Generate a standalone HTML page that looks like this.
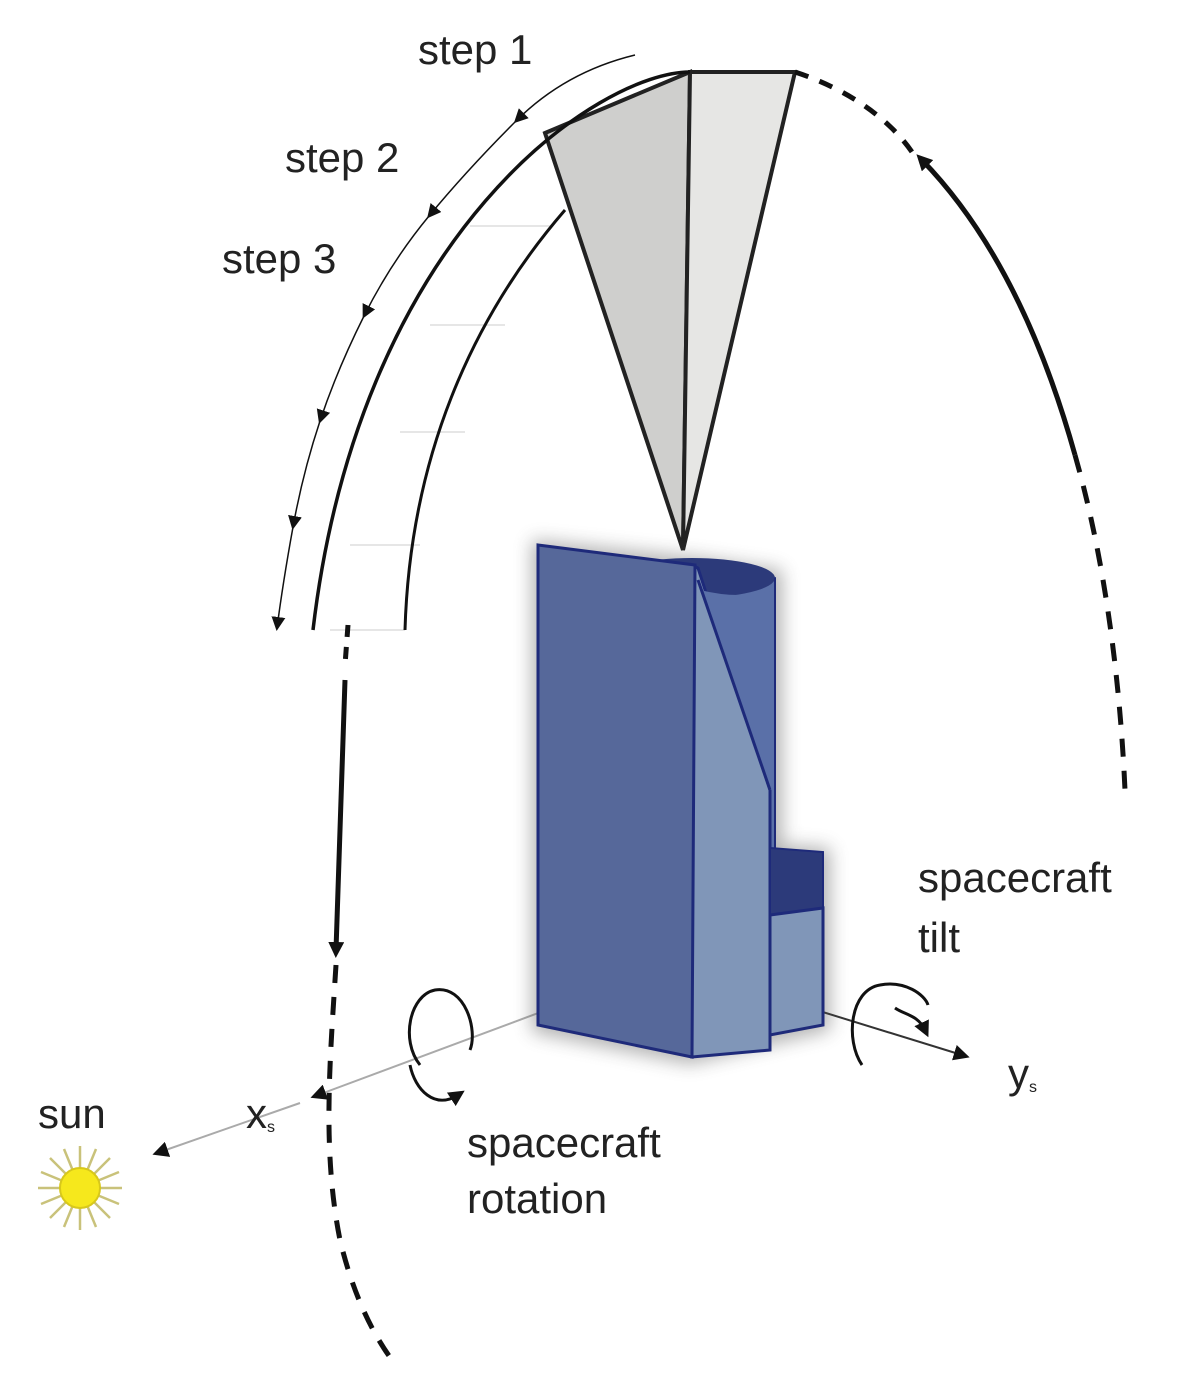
<!DOCTYPE html>
<html><head><meta charset="utf-8"><style>
html,body{margin:0;padding:0;background:#fff}
svg{display:block}
text{font-family:"Liberation Sans",sans-serif;fill:#222}
</style></head><body>
<svg width="1200" height="1381" viewBox="0 0 1200 1381" xmlns="http://www.w3.org/2000/svg">
<defs>
<marker id="ah" markerWidth="14" markerHeight="14" refX="11" refY="7" orient="auto" markerUnits="userSpaceOnUse"><path d="M0,0 L14,7 L0,14 z" fill="#111"/></marker>
<marker id="ahs" markerWidth="16" markerHeight="16" refX="8" refY="8" orient="auto" markerUnits="userSpaceOnUse"><path d="M0,0 L16,8 L0,16 z" fill="#111"/></marker>
<filter id="sh" x="-30%" y="-20%" width="160%" height="140%"><feGaussianBlur stdDeviation="9"/></filter>
</defs>

<g stroke="#e6e6e6" stroke-width="2">
<line x1="470" y1="226" x2="550" y2="226"/><line x1="430" y1="325" x2="505" y2="325"/>
<line x1="400" y1="432" x2="465" y2="432"/><line x1="350" y1="545" x2="420" y2="545"/>
<line x1="330" y1="630" x2="405" y2="630"/>
</g>

<polygon points="545,133 690,72 683,550" fill="#cfcfcd" stroke="#222" stroke-width="4"/>
<polygon points="690,72 795,72 683,550" fill="#e6e6e4" stroke="#222" stroke-width="4"/>

<path d="M690 72 C600 72 360 230 313 630" fill="none" stroke="#111" stroke-width="3.5"/>
<path d="M565 210 C470 320 410 460 405 630" fill="none" stroke="#111" stroke-width="3"/>
<path d="M635 55 Q565 72 516 121 T429 216 T364 316 T320 421 T293 527 T277 628" fill="none" stroke="#111" stroke-width="1.5" marker-mid="url(#ah)" marker-end="url(#ah)"/>

<path d="M795 72 C850 90 890 120 912 152" fill="none" stroke="#111" stroke-width="5" stroke-dasharray="14,12"/>
<path d="M1075 455 C1040 330 990 230 922 160" fill="none" stroke="#111" stroke-width="5" marker-end="url(#ahs)"/>
<path d="M1075 455 C1105 560 1120 680 1125 790" fill="none" stroke="#111" stroke-width="5" stroke-dasharray="18,14"/>

<path d="M348 625 L345 665" fill="none" stroke="#111" stroke-width="5" stroke-dasharray="12,10"/>
<path d="M345 680 C342 780 338 880 336 950" fill="none" stroke="#111" stroke-width="5" marker-end="url(#ahs)"/>
<path d="M336 965 C330 1060 322 1150 340 1240 C352 1290 370 1330 392 1360" fill="none" stroke="#111" stroke-width="5" stroke-dasharray="18,14"/>

<line x1="600" y1="990" x2="318" y2="1095" stroke="#aaa" stroke-width="2" marker-end="url(#ahs)"/>
<line x1="300" y1="1103" x2="160" y2="1152" stroke="#aaa" stroke-width="2" marker-end="url(#ahs)"/>
<line x1="800" y1="1005" x2="962" y2="1055" stroke="#333" stroke-width="2" marker-end="url(#ahs)"/>

<path d="M532 540 L700 558 L782 570 L782 845 L830 848 L830 1030 L690 1064 L532 1032 z" fill="#555" opacity="0.45" filter="url(#sh)"/>
<path d="M692 572 Q735 560 775 578 L775 850 L692 850 z" fill="#5a70a8" stroke="#1e2a7a" stroke-width="2"/>
<ellipse cx="692" cy="578" rx="83" ry="20" fill="#2c3a7a"/>
<polygon points="692,565 698,568 770,790 770,1050 692,1057" fill="#8096b8" stroke="#1e2a7a" stroke-width="3"/>
<path d="M700 590 L770 790 L775 790 L775 590 Q740 600 700 590 z" fill="#5a70a8"/>
<line x1="698" y1="580" x2="770" y2="790" stroke="#1e2a7a" stroke-width="3"/>
<line x1="775" y1="578" x2="775" y2="850" stroke="#1e2a7a" stroke-width="2"/>
<polygon points="538,545 695,565 692,1057 538,1025" fill="#56689a" stroke="#1e2a7a" stroke-width="3"/>
<polygon points="770,848 823,852 823,908 770,915" fill="#2c3a7a" stroke="#1e2a7a" stroke-width="2"/>
<polygon points="770,915 823,908 823,1025 770,1035" fill="#8096b8" stroke="#1e2a7a" stroke-width="3"/>

<path d="M420 1065 C400 1040 410 995 435 990 C465 985 478 1030 470 1050" fill="none" stroke="#111" stroke-width="3"/>
<path d="M410 1065 C415 1090 435 1110 458 1095" fill="none" stroke="#111" stroke-width="3" marker-end="url(#ahs)"/>
<path d="M862 1065 C845 1040 850 990 880 985 C905 980 925 995 928 1005" fill="none" stroke="#111" stroke-width="3"/>
<path d="M895 1008 C905 1015 918 1015 925 1030" fill="none" stroke="#111" stroke-width="3" marker-end="url(#ahs)"/>

<g transform="translate(80,1188)">
<g stroke="#c9c27a" stroke-width="2.5">
<line x1="0" y1="-42" x2="0" y2="42"/><line x1="-42" y1="0" x2="42" y2="0"/>
<line x1="-30" y1="-30" x2="30" y2="30"/><line x1="-30" y1="30" x2="30" y2="-30"/>
<line x1="-16" y1="-39" x2="16" y2="39"/><line x1="16" y1="-39" x2="-16" y2="39"/>
<line x1="-39" y1="-16" x2="39" y2="16"/><line x1="-39" y1="16" x2="39" y2="-16"/>
</g>
<circle r="20" fill="#f6e81c" stroke="#d8c81a" stroke-width="2"/>
</g>

<g font-size="42">
<text x="418" y="64">step 1</text>
<text x="285" y="172">step 2</text>
<text x="222" y="273">step 3</text>
<text x="918" y="892">spacecraft</text>
<text x="918" y="952">tilt</text>
<text x="467" y="1157">spacecraft</text>
<text x="467" y="1213">rotation</text>
<text x="38" y="1128">sun</text>
<text x="246" y="1128">x<tspan font-size="16" dy="4">s</tspan></text>
<text x="1008" y="1088">y<tspan font-size="16" dy="4">s</tspan></text>
</g>
</svg>
</body></html>
